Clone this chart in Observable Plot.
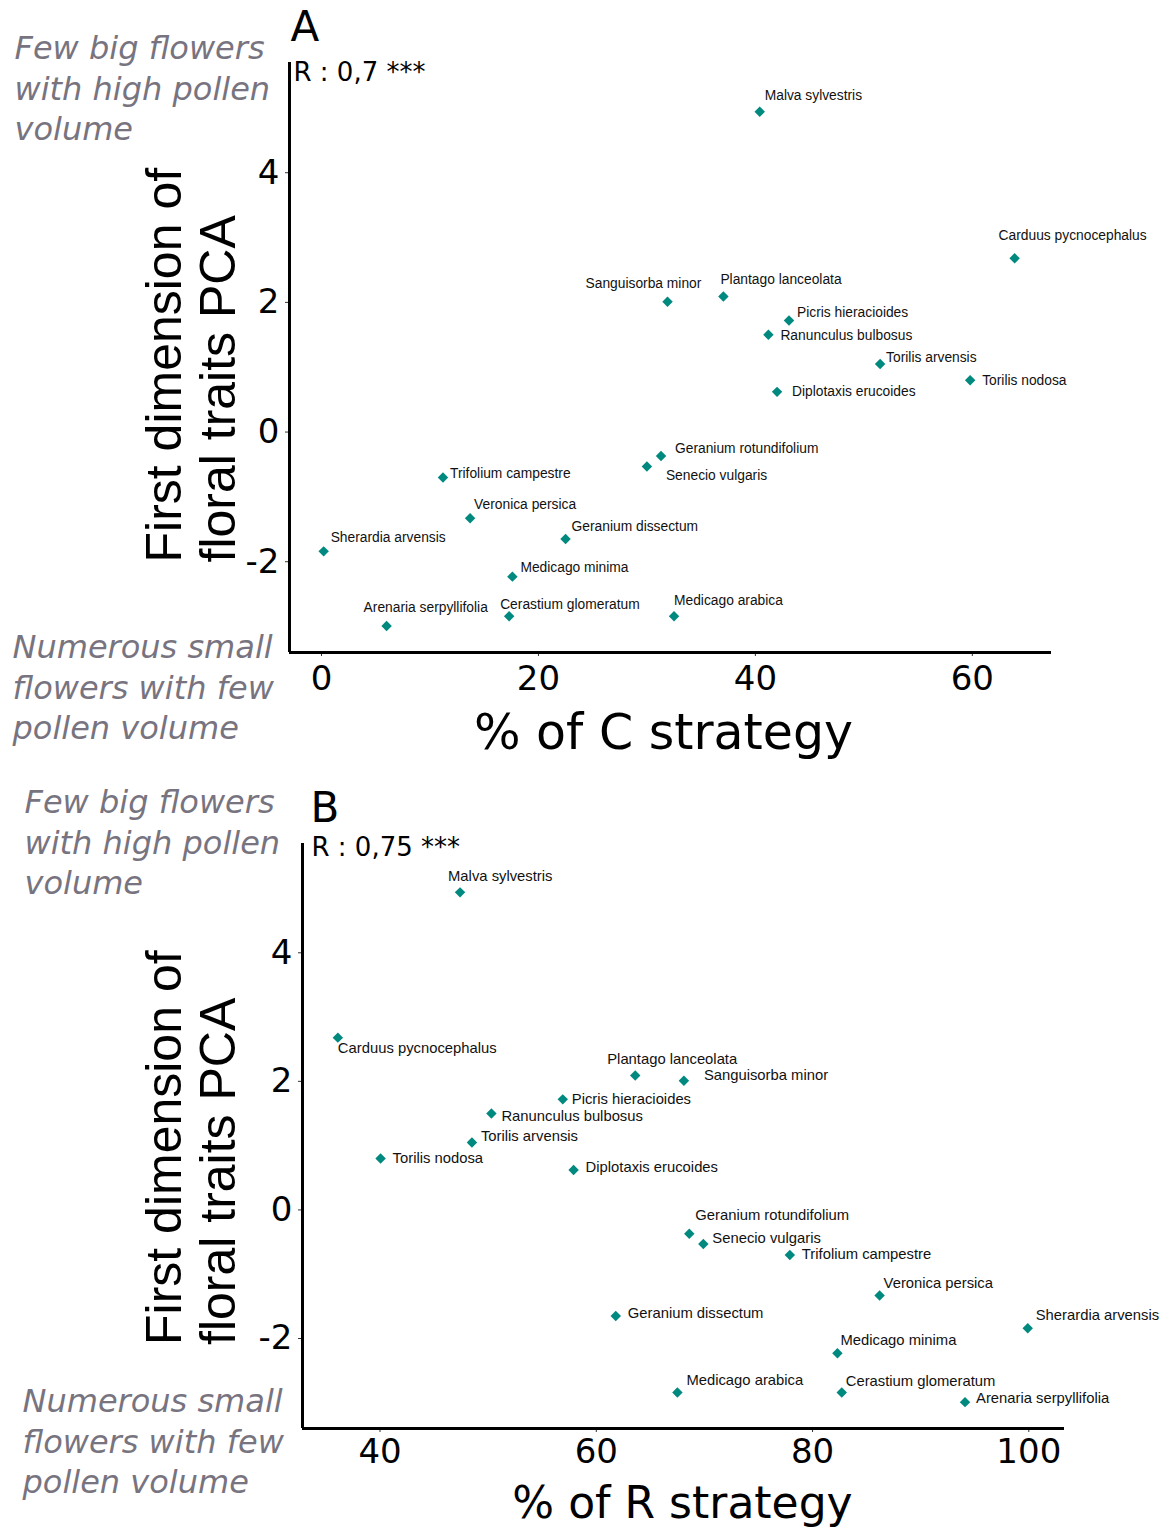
<!DOCTYPE html>
<html>
<head>
<meta charset="utf-8">
<script src="https://cdn.jsdelivr.net/npm/d3@7"></script>
<script src="https://cdn.jsdelivr.net/npm/@observablehq/plot@0.6"></script>
<style>
  html, body { margin: 0; padding: 0; background: #fff; }
  #chart { width: 1168px; height: 1528px; position: relative; overflow: hidden; }
  #chart svg { display: block; }
</style>
</head>
<body>
<div id="chart"></div>
<script>
// ---- data ----
const species = [
  "Malva sylvestris", "Carduus pycnocephalus", "Sanguisorba minor", "Plantago lanceolata",
  "Picris hieracioides", "Ranunculus bulbosus", "Torilis arvensis", "Torilis nodosa",
  "Diplotaxis erucoides", "Geranium rotundifolium", "Senecio vulgaris", "Trifolium campestre",
  "Veronica persica", "Sherardia arvensis", "Geranium dissectum", "Medicago minima",
  "Arenaria serpyllifolia", "Cerastium glomeratum", "Medicago arabica"
];
const pcaDim1 = [4.94, 2.68, 2.01, 2.09, 1.72, 1.50, 1.05, 0.80, 0.62, -0.37, -0.53, -0.70,
  -1.33, -1.84, -1.65, -2.23, -2.99, -2.84, -2.84];
const pctC = [40.4, 63.9, 31.9, 37.05, 43.1, 41.2, 51.5, 59.8, 42.0, 31.3, 30.0, 11.2,
  13.7, 0.2, 22.5, 17.6, 6.0, 17.3, 32.5];
const pctR = [47.4, 36.1, 68.1, 63.6, 56.9, 50.3, 48.5, 40.05, 57.9, 68.6, 69.9, 77.9,
  86.2, 99.9, 61.8, 82.3, 94.1, 82.7, 67.5];
const ticksC = [0, 20, 40, 60];
const ticksR = [40, 60, 80, 100];
const ticksY = [-2, 0, 2, 4];
const rLabelA = "R : 0,7 ***";
const rLabelB = "R : 0,75 ***";
const yTitle = "First dimension of\nfloral traits PCA";
const noteTop = "Few big flowers\nwith high pollen\nvolume";
const noteBottom = "Numerous small\nflowers with few\npollen volume";

// ---- label placement (repel-style offsets, px) ----
const nudgeA = [[5,-16],[-16,-23],[-82,-18],[-3,-17],[8,-8],[12,1],[6,-6],[12,0],[15,0],
  [14,-7],[19,9],[7,-4],[4,-14],[7,-14],[6,-12],[8,-9],[-23,-18],[-9,-12],[0,-16]];
const nudgeB = [[-12,-16],[0,11],[20,-5],[-28,-16],[9,0],[10,3],[9,-6],[12,0],[12,-3],
  [6,-18],[9,-6],[12,-1],[4,-12],[8,-13],[12,-3],[3,-13],[11,-4],[4,-11],[9,-12]];

const teal = "#00897f";
const gray = "#78747f";
const fmt = d => String(d); // plain hyphen-minus as in the original

function panel(opts) {
  const {xs, xDomain, xTicks, xTitle, nudge, letter, rText, margins, labelSize,
         xTickSize, yTitleDx, yTitleDy, letterD, rD, topD, botD, xTitleD, xTitleSize, xTickPad} = opts;
  const data = species.map((s, i) => ({name: s, x: xs[i], y: pcaDim1[i]}));
  const yDomain = [-3.40, 5.70];
  const labels = data.map((d, i) => Plot.text([d], {
    x: "x", y: "y", text: "name", textAnchor: "start",
    dx: nudge[i][0], dy: nudge[i][1],
    fontFamily: "Liberation Sans, Arial, sans-serif", fontSize: labelSize, fill: "#111"
  }));
  return Plot.plot({
    width: 1168, height: 764,
    marginLeft: margins[0], marginRight: margins[1], marginTop: margins[2], marginBottom: margins[3],
    style: {fontFamily: "DejaVu Sans, sans-serif", background: "transparent", overflow: "visible"},
    x: {domain: xDomain},
    y: {domain: yDomain},
    marks: [
      Plot.axisX({ticks: xTicks, tickFormat: fmt, tickSize: 4, tickPadding: xTickPad, fontSize: xTickSize,
        label: null, stroke: "#333", fill: "#000"}),
      Plot.axisY({ticks: ticksY, tickFormat: fmt, tickSize: 4, tickPadding: 6, fontSize: 34,
        label: null, stroke: "#333", fill: "#000"}),
      Plot.ruleX([xDomain[0]], {stroke: "#000", strokeWidth: 3}),
      Plot.ruleY([yDomain[0]], {stroke: "#000", strokeWidth: 3}),
      Plot.dot(data, {x: "x", y: "y", symbol: "diamond2", r: 4.7, fill: teal, stroke: "none"}),
      ...labels,
      Plot.text([xTitle], {frameAnchor: "bottom", dx: xTitleD[0], dy: xTitleD[1], lineAnchor: "middle",
        fontSize: xTitleSize, fontFamily: "DejaVu Sans, sans-serif", fill: "#000"}),
      Plot.text([yTitle], {frameAnchor: "left", rotate: -90, textAnchor: "start",
        lineAnchor: "middle", lineHeight: 1.08, dx: yTitleDx, dy: yTitleDy,
        fontSize: 50, fontFamily: "Liberation Sans, Arial, sans-serif", fill: "#000"}),
      Plot.text([letter], {frameAnchor: "top-left", textAnchor: "start", lineAnchor: "middle",
        dx: letterD[0], dy: letterD[1], fontSize: 42, fill: "#000"}),
      Plot.text([rText], {frameAnchor: "top-left", textAnchor: "start", lineAnchor: "middle",
        dx: rD[0], dy: rD[1], fontSize: 26, fill: "#000"}),
      Plot.text([noteTop], {frameAnchor: "top-left", textAnchor: "start", lineAnchor: "middle",
        lineHeight: 1.27, dx: topD[0], dy: topD[1], fontSize: 32, fontStyle: "italic", fill: gray}),
      Plot.text([noteBottom], {frameAnchor: "bottom-left", textAnchor: "start", lineAnchor: "middle",
        lineHeight: 1.27, dx: botD[0], dy: botD[1], fontSize: 32, fontStyle: "italic", fill: gray})
    ]
  });
}

const chart = document.getElementById("chart");
chart.append(panel({
  xs: pctC, xDomain: [-2.95, 67.3], xTicks: ticksC, xTitle: "% of C strategy",
  nudge: nudgeA, letter: "A", rText: rLabelA, margins: [289, 117, 62, 112],
  labelSize: 13.8, xTickSize: 34, xTickPad: 9,
  yTitleDx: -99, yTitleDy: 205, letterD: [1, -35], rD: [4, 10],
  topD: [-275, 24], botD: [-277, 33], xTitleD: [-7, 81], xTitleSize: 49
}));
chart.append(panel({
  xs: pctR, xDomain: [32.83, 103.3], xTicks: ticksR, xTitle: "% of R strategy",
  nudge: nudgeB, letter: "B", rText: rLabelB, margins: [302, 104, 79, 100],
  labelSize: 14.8, xTickSize: 34, xTickPad: 6,
  yTitleDx: -112, yTitleDy: 209, letterD: [8, -35], rD: [9, 4],
  topD: [-278, -3], botD: [-280, 11], xTitleD: [-1, 75], xTitleSize: 44
}));
</script>
</body>
</html>
